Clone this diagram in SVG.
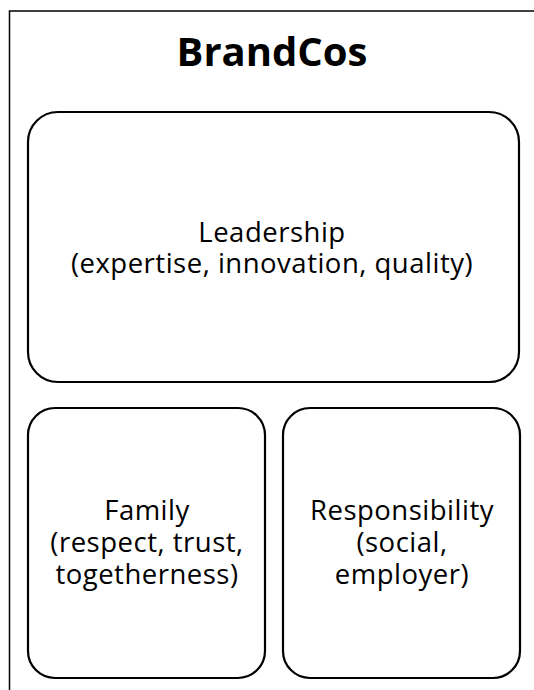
<svg xmlns="http://www.w3.org/2000/svg" width="534" height="690" viewBox="0 0 534 690">
<style>
.box{fill:#fff;stroke:#000;stroke-width:2.2}
.t{font-family:"Open Sans","Liberation Sans",sans-serif;font-size:27.5px;letter-spacing:0.5px;fill:#000;text-anchor:middle}
.title{font-family:"Open Sans","Liberation Sans",sans-serif;font-size:40px;font-weight:bold;fill:#000;text-anchor:middle}
</style>
<rect width="534" height="690" fill="#fff"/>
<g id="frame">
<rect x="9.5" y="11" width="540" height="700" fill="none" stroke="#000" stroke-width="1.5"/>
<text class="title" x="272" y="66">BrandCos</text>
</g>
<g id="leadership">
<rect class="box" x="28" y="112" width="491" height="270" rx="30"/>
<text class="t"><tspan x="272" y="242">Leadership</tspan><tspan x="272" y="273">(expertise, innovation, quality)</tspan></text>
</g>
<g id="family">
<rect class="box" x="28" y="408" width="237" height="270" rx="27"/>
<text class="t"><tspan x="147" y="520">Family</tspan><tspan x="147" y="552">(respect, trust,</tspan><tspan x="147" y="584">togetherness)</tspan></text>
</g>
<g id="responsibility">
<rect class="box" x="283" y="408" width="237" height="270" rx="27"/>
<text class="t"><tspan x="402" y="520">Responsibility</tspan><tspan x="402" y="552">(social,</tspan><tspan x="402" y="584">employer)</tspan></text>
</g>
<g id="connectors"></g>
</svg>
